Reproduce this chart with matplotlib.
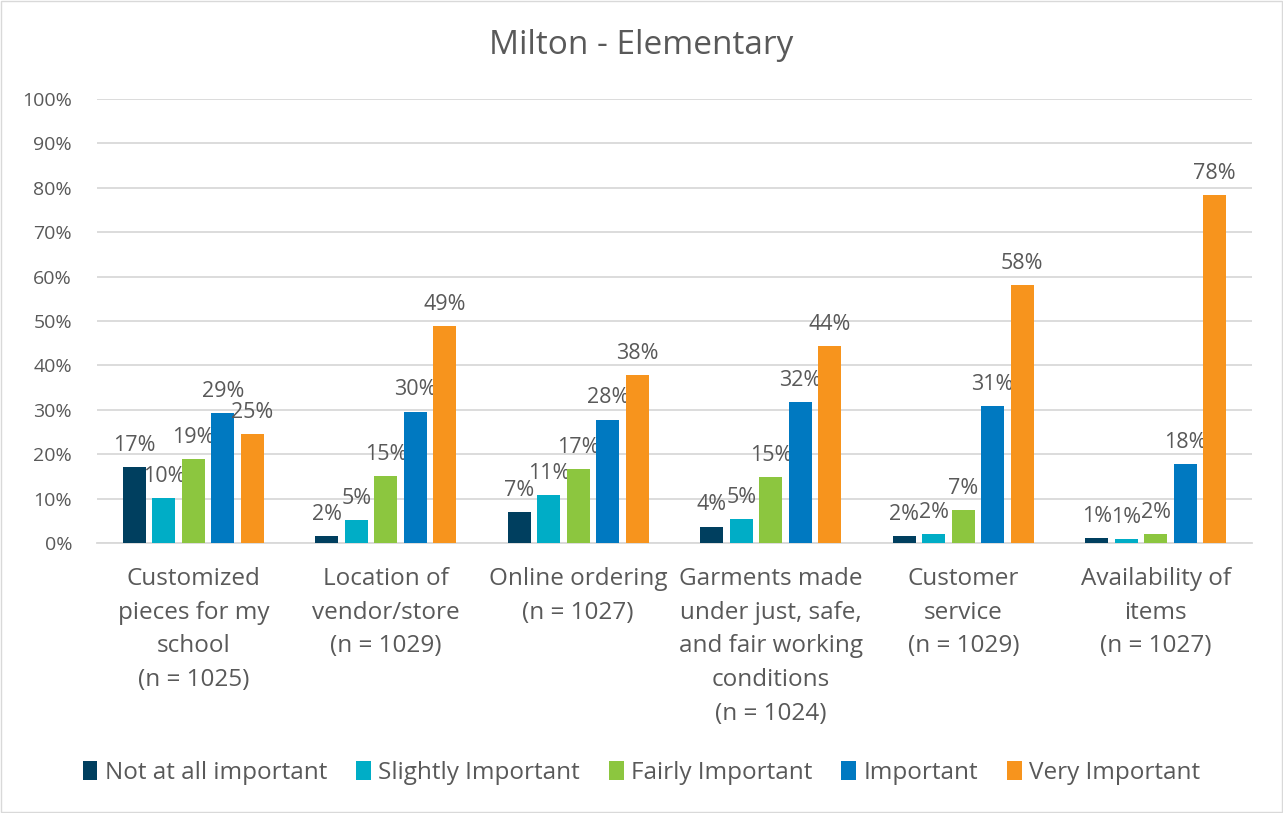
import matplotlib.pyplot as plt
import numpy as np

plt.rcParams['font.family'] = ['Open Sans', 'DejaVu Sans']

categories = ["Customized\npieces for my\nschool\n(n = 1025)",
              "Location of\nvendor/store\n(n = 1029)",
              "Online ordering\n(n = 1027)",
              "Garments made\nunder just, safe,\nand fair working\nconditions\n(n = 1024)",
              "Customer\nservice\n(n = 1029)",
              "Availability of\nitems\n(n = 1027)"]
series_names = ["Not at all important", "Slightly Important", "Fairly Important",
                "Important", "Very Important"]
not_at_all = [17.2, 1.6, 7.0, 3.7, 1.6, 1.1]
slightly = [10.1, 5.1, 10.8, 5.3, 2.0, 0.8]
fairly = [19.0, 15.0, 16.6, 14.8, 7.4, 2.0]
important = [29.3, 29.6, 27.8, 31.8, 30.9, 17.8]
very = [24.6, 48.9, 37.8, 44.4, 58.1, 78.3]
colors = ["#003f5f", "#00adc6", "#8cc63f", "#0079c1", "#f7941d"]

values = [not_at_all, slightly, fairly, important, very]
text_color = "#595959"

fig = plt.figure(figsize=(12.83, 8.13), dpi=100)
ax = fig.add_axes([97 / 1283, 1 - 543 / 813, 1155 / 1283, 444 / 813])

x = np.arange(len(categories))
pitch = 0.153
width = 0.12
for i, (name, vals) in enumerate(zip(series_names, values)):
    pos = x + (i - 2) * pitch
    bars = ax.bar(pos, vals, width, color=colors[i], label=name, zorder=3)
    for b, v in zip(bars, vals):
        ax.text(b.get_x() + b.get_width() / 2, v + 2.5, f"{v:.0f}%",
                ha='center', va='bottom', fontsize=15.5, color=text_color)

ax.set_xlim(-0.5, len(categories) - 0.5)
ax.set_ylim(0, 100)
ax.set_yticks(range(0, 101, 10))
ax.set_yticklabels([f"{t}%" for t in range(0, 101, 10)])
ax.set_xticks(x)
ax.set_xticklabels(categories, fontsize=17.5, linespacing=1.55, va='top')
ax.tick_params(axis='both', length=0, colors=text_color)
ax.tick_params(axis='y', labelsize=14, pad=18)
ax.tick_params(axis='x', pad=17)
ax.grid(axis='y', color='#d9d9d9', linewidth=1.3, zorder=0)
for s in ['top', 'right', 'left']:
    ax.spines[s].set_visible(False)
ax.spines['bottom'].set_color('#d9d9d9')
ax.spines['bottom'].set_linewidth(1.3)

fig.text(0.5, 1 - 45 / 813, "Milton - Elementary", ha='center', va='center',
         fontsize=24, color=text_color)

handles, labels = ax.get_legend_handles_labels()
fig.legend(handles, labels, loc='center', bbox_to_anchor=(0.5, 1 - 773 / 813),
           ncol=5, frameon=False, fontsize=17.5, handlelength=0.6, handleheight=0.8,
           handletextpad=0.3, columnspacing=1.2, labelcolor=text_color)

fig.patches.append(plt.Rectangle((0.001, 0.001), 0.998, 0.998, transform=fig.transFigure,
                                 fill=False, edgecolor='#d9d9d9', linewidth=1))

fig.savefig("out.png", dpi=100, facecolor='white')
